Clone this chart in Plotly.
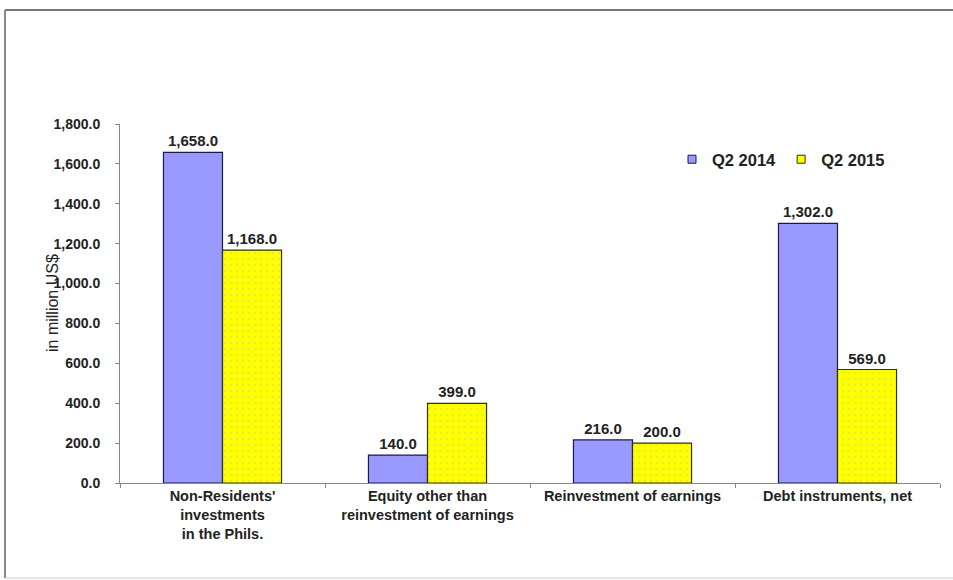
import plotly.graph_objects as go

categories = [
    "Non-Residents'<br>investments<br>in the Phils.",
    "Equity other than<br>reinvestment of earnings",
    "Reinvestment of earnings",
    "Debt instruments, net",
]
series_names = ["Q2 2014", "Q2 2015"]
q2_2014 = [1658.0, 140.0, 216.0, 1302.0]
q2_2015 = [1168.0, 399.0, 200.0, 569.0]
y_ticks = [0, 200, 400, 600, 800, 1000, 1200, 1400, 1600, 1800]

W, H = 953, 580
ML, MR, MT, MB = 120, 13, 124, 97
FONT = "Liberation Sans, Arial, sans-serif"
TXT = "#222222"
BLUE, BLUE_EDGE = "#9999FF", "#1a1a4d"
YEL, YEL_EDGE = "#FFFF00", "#333300"

fig = go.Figure()
fig.add_trace(go.Bar(
    name=series_names[0], x=categories, y=q2_2014, showlegend=False,
    marker=dict(color=BLUE, line=dict(color=BLUE_EDGE, width=1.2)),
    text=q2_2014, texttemplate="%{y:,.1f}", textposition="outside",
    textfont=dict(family=FONT, size=15, color=TXT, weight="bold"),
    cliponaxis=False,
))
fig.add_trace(go.Bar(
    name=series_names[1], x=categories, y=q2_2015, showlegend=False,
    marker=dict(color=YEL, line=dict(color=YEL_EDGE, width=1.2),
                pattern=dict(shape=".", fgcolor="#d8d860", bgcolor=YEL, size=6, solidity=0.15)),
    text=q2_2015, texttemplate="%{y:,.1f}", textposition="outside",
    textfont=dict(family=FONT, size=15, color=TXT, weight="bold"),
    cliponaxis=False,
))
# legend-only entries with small square keys
for nm, col, edge in [(series_names[0], BLUE, BLUE_EDGE), (series_names[1], YEL, YEL_EDGE)]:
    fig.add_trace(go.Scatter(
        name=nm, x=[None], y=[None], mode="markers", showlegend=True,
        marker=dict(symbol="square", size=8, color=col, line=dict(color=edge, width=1)),
    ))

pw = W - ML - MR
ph = H - MT - MB
def px_to_paper_x(px):
    return (px - ML) / pw
def px_to_paper_y(py):
    return (H - MB - py) / ph

fig.update_layout(
    width=W, height=H,
    margin=dict(l=ML, r=MR, t=MT, b=MB),
    paper_bgcolor="white", plot_bgcolor="white",
    barmode="group", bargap=0.424, bargroupgap=0,
    font=dict(family=FONT, size=12, color=TXT),
    showlegend=True,
    legend=dict(
        orientation="h", x=px_to_paper_x(672), y=px_to_paper_y(142),
        xanchor="left", yanchor="top",
        font=dict(family=FONT, size=16.5, color=TXT, weight="bold"),
        bgcolor="rgba(0,0,0,0)", itemwidth=30, traceorder="normal",
    ),
    xaxis=dict(
        showline=True, linecolor="#888888", linewidth=1,
        ticks="outside", ticklen=4, tickcolor="#888888", tickson="boundaries",
        tickfont=dict(family=FONT, size=14.5, color=TXT, weight="bold"),
        showgrid=False,
    ),
    yaxis=dict(
        range=[0, 1800], tickvals=y_ticks, tickformat=",.1f",
        showline=True, linecolor="#888888", linewidth=1,
        ticks="outside", ticklen=4, tickcolor="#888888",
        ticklabelstandoff=12,
        tickfont=dict(family=FONT, size=14, color=TXT, weight="bold"),
        showgrid=False, zeroline=False,
    ),
    annotations=[dict(
        text="in million US$", textangle=-90,
        x=px_to_paper_x(52), y=px_to_paper_y(303), xref="paper", yref="paper",
        xanchor="center", yanchor="middle",
        showarrow=False, font=dict(family=FONT, size=16, color=TXT),
    )],
    shapes=[
        dict(type="line", xref="paper", yref="paper",
             x0=px_to_paper_x(5), x1=px_to_paper_x(953), y0=px_to_paper_y(10), y1=px_to_paper_y(10),
             line=dict(color="#777777", width=2)),
        dict(type="line", xref="paper", yref="paper",
             x0=px_to_paper_x(5), x1=px_to_paper_x(5), y0=px_to_paper_y(10), y1=px_to_paper_y(578),
             line=dict(color="#888888", width=2)),
        dict(type="line", xref="paper", yref="paper",
             x0=px_to_paper_x(5), x1=px_to_paper_x(953), y0=px_to_paper_y(578), y1=px_to_paper_y(578),
             line=dict(color="#cccccc", width=1)),
    ],
)

fig.write_html("out.html")
